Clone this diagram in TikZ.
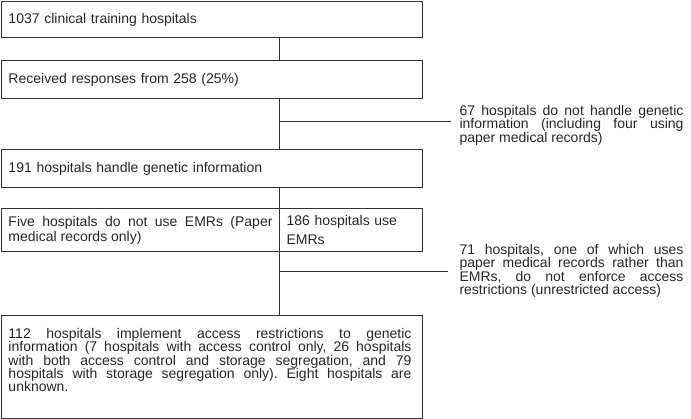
\documentclass[tikz,border=0pt]{standalone}
\usepackage{fontspec}
\setmainfont{Liberation Sans}
\frenchspacing
\definecolor{txt}{HTML}{262626}
\definecolor{ln}{HTML}{333333}
\begin{document}
\begin{tikzpicture}[x=1pt,y=-1pt,line width=1pt,
  every node/.style={font=\fontsize{14}{13.3}\selectfont\frenchspacing, text=txt},
  box/.style={draw=ln, rectangle, anchor=north west, inner xsep=7pt, inner ysep=0pt, align=left},
  sidetext/.style={anchor=north west, inner sep=0pt, text width=224pt, align=justify},
  conn/.style={draw=ln, line width=1pt}]
\useasboundingbox (0,0) rectangle (691,419);
\node[box, minimum width=421pt, minimum height=36pt, text width=407pt] (b1) at (1,1) {1037 clinical training hospitals};
\node[box, minimum width=421pt, minimum height=38pt, text width=407pt] (b2) at (1,60) {Received responses from 258 (25\%)};
\node[box, minimum width=421pt, minimum height=38pt, text width=407pt] (b3) at (1,149) {191 hospitals handle genetic information};
\node[box, minimum width=278pt, minimum height=43pt, text width=264pt, align=justify, font=\fontsize{14}{15}\selectfont\frenchspacing] (b4) at (1,208) {Five hospitals do not use EMRs (Paper\linebreak medical records only)};
\node[box, minimum width=143pt, minimum height=43pt, text width=129pt, font=\fontsize{14}{19}\selectfont\frenchspacing] (b5) at (279,208) {186 hospitals use\\EMRs};
\node[draw=ln, rectangle, anchor=north west, inner sep=0pt, minimum width=421pt, minimum height=103pt] (b6) at (1,315) {};
\node[anchor=north west, inner sep=0pt, text width=403pt, align=justify] (t6) at (8,328) {112 hospitals implement access restrictions to genetic\linebreak information (7 hospitals with access control only, 26 hospitals\linebreak with both access control and storage segregation, and 79\linebreak hospitals with storage segregation only). Eight hospitals are\linebreak unknown.};
\node[sidetext] (s1) at (459,105) {67 hospitals do not handle genetic\linebreak information (including four using\linebreak paper medical records)};
\node[sidetext] (s2) at (459,244) {71 hospitals, one of which uses\linebreak paper medical records rather than\linebreak EMRs, do not enforce access\linebreak restrictions (unrestricted access)};
\coordinate (sp) at (279,0);
\coordinate (j1) at (279,122);
\coordinate (e1) at (451,122);
\coordinate (j2) at (279,272);
\coordinate (e2) at (448,272);
\draw[conn] (b1.south -| sp) -- (b2.north -| sp);
\draw[conn] (b2.south -| sp) -- (b3.north -| sp);
\draw[conn] (j1) -- (e1);
\draw[conn] (b3.south -| sp) -- (b5.north west);
\draw[conn] (b5.south west) -- (b6.north -| sp);
\draw[conn] (j2) -- (e2);
\end{tikzpicture}
\end{document}
